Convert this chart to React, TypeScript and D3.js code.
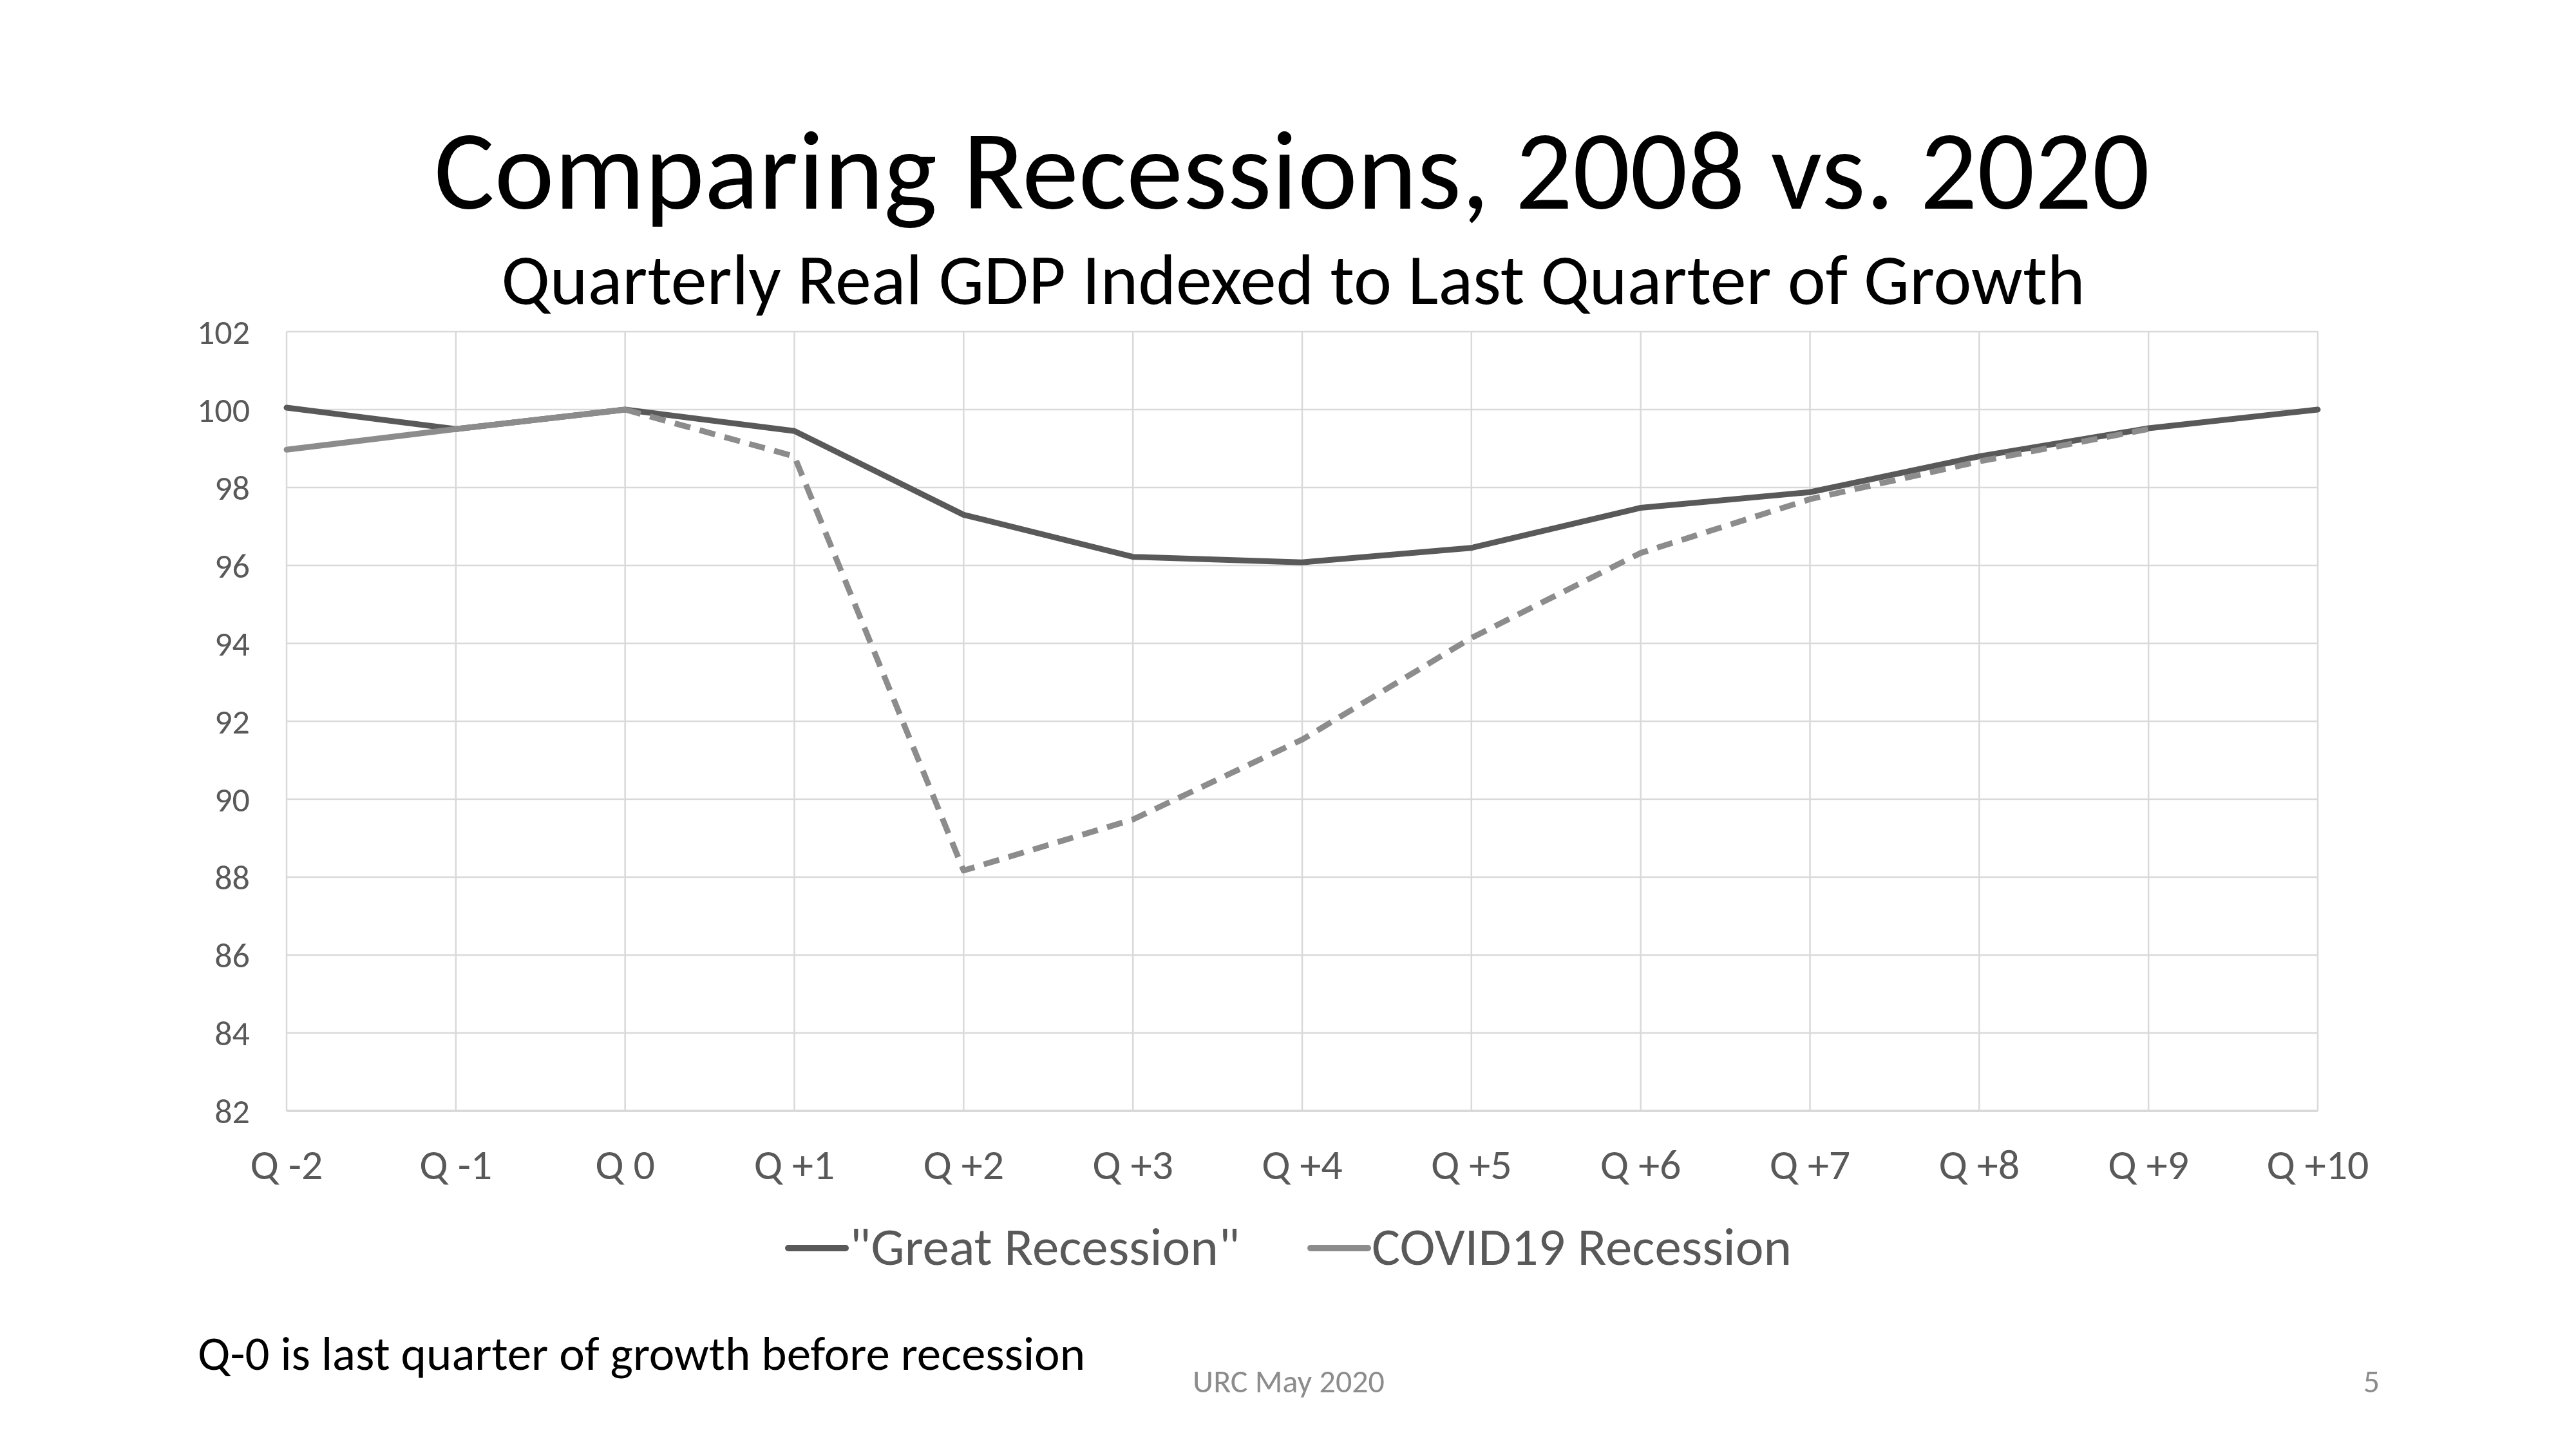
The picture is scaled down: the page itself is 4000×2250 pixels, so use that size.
import * as d3 from 'd3';
import { useEffect, useRef } from 'react';

const quarters = ['Q -2', 'Q -1', 'Q 0', 'Q +1', 'Q +2', 'Q +3', 'Q +4', 'Q +5', 'Q +6', 'Q +7', 'Q +8', 'Q +9', 'Q +10'];
const greatRecession = [100.05, 99.5, 100, 99.45, 97.3, 96.22, 96.08, 96.45, 97.48, 97.88, 98.8, 99.52, 100];
// last value missing: the COVID series stops at Q +9
const covid = [98.97, 99.5, 100, 98.8, 88.17, 89.48, 91.53, 94.14, 96.32, 97.7, 98.67, 99.5, null];
const forecastFrom = 2; // dashed after Q 0
const yTicks = [82, 84, 86, 88, 90, 92, 94, 96, 98, 100, 102];
const seriesNames = ['"Great Recession"', 'COVID19 Recession'];

const FONT = 'Calibri, Carlito, Lato, sans-serif';

export default function App() {
  const svgRef = useRef(null);

  useEffect(() => {
    const svgEl = svgRef.current;
    if (!svgEl) return;
    const svg = d3.select(svgEl);
    svg.selectAll('*').remove();

    const width = 4000;
    const height = 2250;
    svg.attr('width', width).attr('height', height);

    svg.append('rect').attr('width', width).attr('height', height).attr('fill', '#fff');

    // Titles
    svg
      .append('text')
      .attr('x', 2006)
      .attr('y', 324)
      .attr('text-anchor', 'middle')
      .attr('font-family', FONT)
      .attr('font-size', 176)
      .attr('fill', '#000')
      .text('Comparing Recessions, 2008 vs. 2020');
    svg
      .append('text')
      .attr('x', 2008)
      .attr('y', 472)
      .attr('text-anchor', 'middle')
      .attr('font-family', FONT)
      .attr('font-size', 112)
      .attr('fill', '#000')
      .text('Quarterly Real GDP Indexed to Last Quarter of Growth');

    const x = d3.scalePoint<string>().domain(quarters).range([445, 3599]);
    const y = d3.scaleLinear().domain([82, 102]).range([1725, 515]);

    const grid = svg.append('g');
    grid
      .selectAll('line.h')
      .data(yTicks)
      .join('line')
      .attr('class', 'h')
      .attr('x1', x.range()[0])
      .attr('x2', x.range()[1])
      .attr('y1', (d) => y(d))
      .attr('y2', (d) => y(d))
      .attr('stroke', '#d9d9d9')
      .attr('stroke-width', (d) => (d === 82 ? 4 : 2.5));
    grid
      .selectAll('line.v')
      .data(quarters)
      .join('line')
      .attr('class', 'v')
      .attr('x1', (d) => x(d)!)
      .attr('x2', (d) => x(d)!)
      .attr('y1', y(102))
      .attr('y2', y(82))
      .attr('stroke', '#d9d9d9')
      .attr('stroke-width', 2.5);

    // Axis labels
    svg
      .append('g')
      .selectAll('text')
      .data(yTicks)
      .join('text')
      .attr('x', 388)
      .attr('y', (d) => y(d) + 19)
      .attr('text-anchor', 'end')
      .attr('font-family', FONT)
      .attr('font-size', 54)
      .attr('fill', '#595959')
      .text((d) => d);
    svg
      .append('g')
      .selectAll('text')
      .data(quarters)
      .join('text')
      .attr('x', (d) => x(d)!)
      .attr('y', 1831)
      .attr('text-anchor', 'middle')
      .attr('font-family', FONT)
      .attr('font-size', 66)
      .attr('fill', '#595959')
      .text((d) => d);

    const line = d3
      .line<number | null>()
      .defined((d) => d !== null)
      .x((_, i) => x(quarters[i])!)
      .y((d) => y(d as number));

    svg
      .append('path')
      .attr('d', line(greatRecession))
      .attr('fill', 'none')
      .attr('stroke', '#595959')
      .attr('stroke-width', 9)
      .attr('stroke-linejoin', 'round')
      .attr('stroke-linecap', 'round');

    const actual = covid.map((d, i) => (i <= forecastFrom ? d : null));
    const forecast = covid.map((d, i) => (i >= forecastFrom ? d : null));
    svg
      .append('path')
      .attr('d', line(actual))
      .attr('fill', 'none')
      .attr('stroke', '#8c8c8c')
      .attr('stroke-width', 9)
      .attr('stroke-linejoin', 'round')
      .attr('stroke-linecap', 'round');
    svg
      .append('path')
      .attr('d', line(forecast))
      .attr('fill', 'none')
      .attr('stroke', '#8c8c8c')
      .attr('stroke-width', 9)
      .attr('stroke-dasharray', '25 15')
      .attr('stroke-linejoin', 'round');

    // Legend
    const legendColors = ['#595959', '#8c8c8c'];
    const legendX = [1224, 2035];
    const legend = svg
      .append('g')
      .selectAll('g')
      .data(seriesNames)
      .join('g')
      .attr('transform', (_, i) => `translate(${legendX[i]},1938)`);
    legend
      .append('line')
      .attr('x1', 0)
      .attr('x2', 89)
      .attr('stroke', (_, i) => legendColors[i])
      .attr('stroke-width', 10)
      .attr('stroke-linecap', 'round');
    legend
      .append('text')
      .attr('x', 95)
      .attr('y', 26)
      .attr('font-family', FONT)
      .attr('font-size', 83)
      .attr('fill', '#595959')
      .text((d) => d);

    // Footer
    svg
      .append('text')
      .attr('x', 307)
      .attr('y', 2127)
      .attr('font-family', FONT)
      .attr('font-size', 75)
      .attr('fill', '#000')
      .text('Q-0 is last quarter of growth before recession');
    svg
      .append('text')
      .attr('x', 2001)
      .attr('y', 2162)
      .attr('text-anchor', 'middle')
      .attr('font-family', FONT)
      .attr('font-size', 50)
      .attr('fill', '#8c8c8c')
      .text('URC May 2020');
    svg
      .append('text')
      .attr('x', 3695)
      .attr('y', 2162)
      .attr('text-anchor', 'end')
      .attr('font-family', FONT)
      .attr('font-size', 50)
      .attr('fill', '#8c8c8c')
      .text('5');
  }, []);

  return <svg ref={svgRef} style={{ position: 'absolute', left: 0, top: 0, display: 'block' }} />;
}
